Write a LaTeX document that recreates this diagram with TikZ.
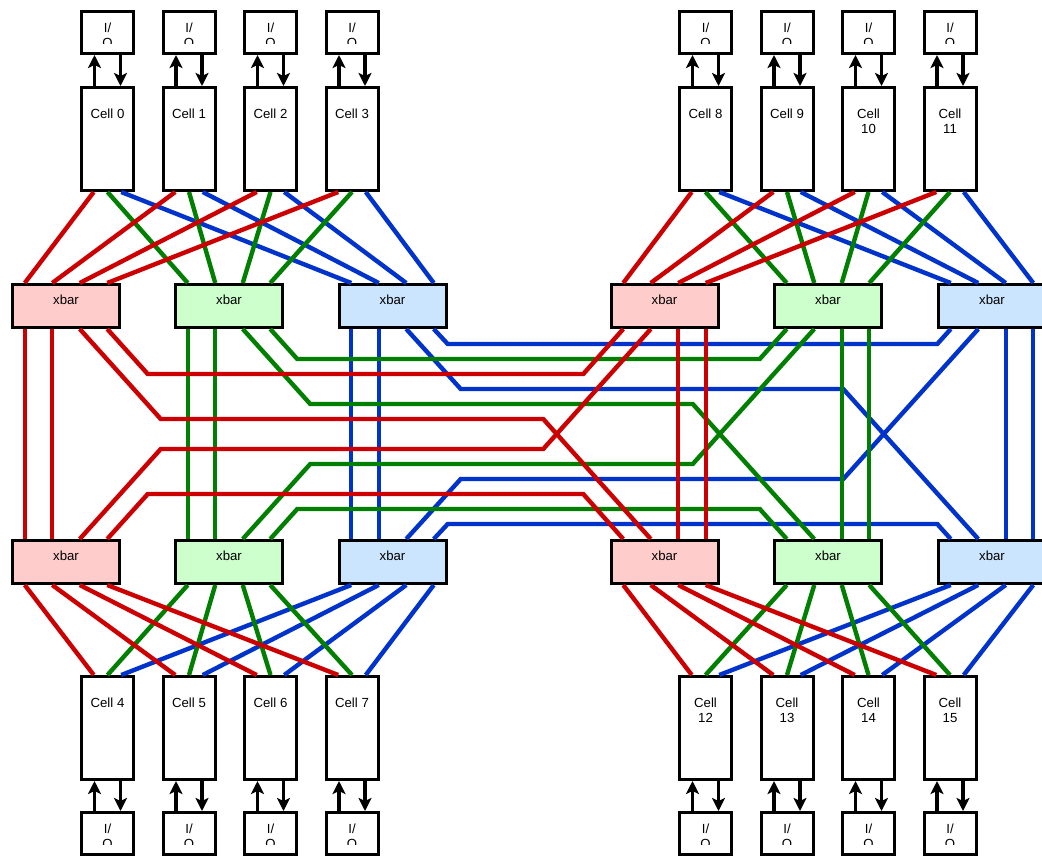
\documentclass[tikz,border=0pt]{standalone}
\usepackage{fontspec}
\setmainfont{Liberation Sans}
\usepackage{tikz}
\usetikzlibrary{arrows.meta,positioning}
\definecolor{linkred}{HTML}{CC0000}
\definecolor{linkgreen}{HTML}{007F00}
\definecolor{linkblue}{HTML}{0033CC}
\definecolor{fillred}{HTML}{FFCCCC}
\definecolor{fillgreen}{HTML}{CCFFCC}
\definecolor{fillblue}{HTML}{CCE5FF}
\tikzstyle{cellbox}=[draw, fill=white, line width=3pt, minimum width=52pt, minimum height=103pt, inner sep=0pt]
\tikzstyle{iobox}=[draw, fill=white, line width=3pt, minimum width=52pt, minimum height=42pt, inner sep=0pt]
\tikzstyle{xbar}=[draw, line width=3pt, minimum width=107pt, minimum height=43pt, inner sep=0pt, text height=9.6pt, text depth=13pt, font=\fontsize{13.2}{15}\selectfont]
\tikzstyle{celltext}=[anchor=north, yshift=-22.5pt, inner sep=0pt, align=center, font=\fontsize{13.2}{15}\selectfont]
\tikzstyle{iotext}=[inner sep=0pt, align=center, font=\fontsize{13.2}{15}\selectfont]
\tikzstyle{ioarrow}=[line width=3.6pt, -{Stealth[length=13pt, width=13pt, inset=3pt]}]
\tikzstyle{redlink}=[linkred, line width=4.4pt]
\tikzstyle{greenlink}=[linkgreen, line width=4.4pt]
\tikzstyle{bluelink}=[linkblue, line width=4.4pt]

\begin{document}
\begin{tikzpicture}[x=1pt, y=-1pt]
    \useasboundingbox (0,0) rectangle (1042,855);
    % cells
    \node[cellbox, label={[celltext]north:Cell 0}] (c0) at (107.5,139) {};
    \node[cellbox, label={[celltext]north:Cell 1}] (c1) at (189,139) {};
    \node[cellbox, label={[celltext]north:Cell 2}] (c2) at (270.5,139) {};
    \node[cellbox, label={[celltext]north:Cell 3}] (c3) at (352,139) {};
    \node[cellbox, label={[celltext]north:Cell 8}] (c8) at (705.5,139) {};
    \node[cellbox, label={[celltext]north:Cell 9}] (c9) at (787,139) {};
    \node[cellbox, label={[celltext]north:{Cell\\10}}] (c10) at (868.5,139) {};
    \node[cellbox, label={[celltext]north:{Cell\\11}}] (c11) at (950,139) {};
    \node[cellbox, label={[celltext]north:Cell 4}] (c4) at (107.5,728) {};
    \node[cellbox, label={[celltext]north:Cell 5}] (c5) at (189,728) {};
    \node[cellbox, label={[celltext]north:Cell 6}] (c6) at (270.5,728) {};
    \node[cellbox, label={[celltext]north:Cell 7}] (c7) at (352,728) {};
    \node[cellbox, label={[celltext]north:{Cell\\12}}] (c12) at (705.5,728) {};
    \node[cellbox, label={[celltext]north:{Cell\\13}}] (c13) at (787,728) {};
    \node[cellbox, label={[celltext]north:{Cell\\14}}] (c14) at (868.5,728) {};
    \node[cellbox, label={[celltext]north:{Cell\\15}}] (c15) at (950,728) {};

    % crossbars: 1 top left, 2 top right, 3 bottom left, 4 bottom right
    \node[xbar, fill=fillred]   (r1) at (66,306) {xbar};
    \node[xbar, fill=fillgreen] (g1) at (229,306) {xbar};
    \node[xbar, fill=fillblue]  (b1) at (392.5,306) {xbar};
    \node[xbar, fill=fillred]   (r2) at (664.5,306) {xbar};
    \node[xbar, fill=fillgreen] (g2) at (828,306) {xbar};
    \node[xbar, fill=fillblue]  (b2) at (992,306) {xbar};
    \node[xbar, fill=fillred]   (r3) at (66,562) {xbar};
    \node[xbar, fill=fillgreen] (g3) at (229,562) {xbar};
    \node[xbar, fill=fillblue]  (b3) at (392.5,562) {xbar};
    \node[xbar, fill=fillred]   (r4) at (664.5,562) {xbar};
    \node[xbar, fill=fillgreen] (g4) at (828,562) {xbar};
    \node[xbar, fill=fillblue]  (b4) at (992,562) {xbar};

    % I/O ports above and below the cells
    \foreach \n in {0,1,2,3,8,9,10,11} {
        \node[iobox, above=31pt of c\n] (io\n) {};
        \draw[ioarrow] ([xshift=-13pt]c\n.north) -- ([xshift=-13pt]io\n.south);
        \draw[ioarrow] ([xshift=13pt]io\n.south) -- ([xshift=13pt]c\n.north);
    }
    \foreach \n in {4,5,6,7,12,13,14,15} {
        \node[iobox, below=30pt of c\n] (io\n) {};
        \draw[ioarrow] ([xshift=-13pt]io\n.north) -- ([xshift=-13pt]c\n.south);
        \draw[ioarrow] ([xshift=13pt]c\n.south) -- ([xshift=13pt]io\n.north);
    }
    \foreach \n in {0,...,15} {
        \begin{scope}
            \clip (io\n.north west) rectangle ([yshift=-33.5pt]io\n.north east);
            \node[iotext, below=12.5pt of io\n.north] (iol\n) {I/\\O};
        \end{scope}
    }

    % cell <-> crossbar links, blue under green under red
    \foreach \k [evaluate=\k as \p using 27.5*\k-41.25,
                 evaluate=\k as \m using int(\k+4),
                 evaluate=\k as \n using int(\k+8),
                 evaluate=\k as \q using int(\k+12)] in {0,...,3} {
        \draw[bluelink] ([xshift=13.75pt]c\k.south) -- ([xshift=\p pt]b1.north);
        \draw[bluelink] ([xshift=13.75pt]c\n.south) -- ([xshift=\p pt]b2.north);
        \draw[bluelink] ([xshift=\p pt]b3.south) -- ([xshift=13.75pt]c\m.north);
        \draw[bluelink] ([xshift=\p pt]b4.south) -- ([xshift=13.75pt]c\q.north);
    }
    \foreach \k [evaluate=\k as \p using 27.5*\k-41.25,
                 evaluate=\k as \m using int(\k+4),
                 evaluate=\k as \n using int(\k+8),
                 evaluate=\k as \q using int(\k+12)] in {0,...,3} {
        \draw[greenlink] (c\k.south) -- ([xshift=\p pt]g1.north);
        \draw[greenlink] (c\n.south) -- ([xshift=\p pt]g2.north);
        \draw[greenlink] ([xshift=\p pt]g3.south) -- (c\m.north);
        \draw[greenlink] ([xshift=\p pt]g4.south) -- (c\q.north);
    }
    \foreach \k [evaluate=\k as \p using 27.5*\k-41.25,
                 evaluate=\k as \m using int(\k+4),
                 evaluate=\k as \n using int(\k+8),
                 evaluate=\k as \q using int(\k+12)] in {0,...,3} {
        \draw[redlink] ([xshift=-13.75pt]c\k.south) -- ([xshift=\p pt]r1.north);
        \draw[redlink] ([xshift=-13.75pt]c\n.south) -- ([xshift=\p pt]r2.north);
        \draw[redlink] ([xshift=\p pt]r3.south) -- ([xshift=-13.75pt]c\m.north);
        \draw[redlink] ([xshift=\p pt]r4.south) -- ([xshift=-13.75pt]c\q.north);
    }

    % crossbar <-> crossbar links
    \foreach \p in {-41.25,-13.75} {
        \draw[bluelink] ([xshift=\p pt]b1.south) -- ([xshift=\p pt]b3.north);
        \draw[bluelink] ([xshift=-\p pt]b2.south) -- ([xshift=-\p pt]b4.north);
    }
    \draw[bluelink] ([xshift=41.25pt]b1.south) -- (447.75,344) -- (937.25,344) -- ([xshift=-41.25pt]b2.south);
    \draw[bluelink] ([xshift=13.75pt]b1.south) -- (460.75,389) -- (843.25,389) -- ([xshift=-13.75pt]b4.north);
    \draw[bluelink] ([xshift=13.75pt]b3.north) -- (460.75,479) -- (843.25,479) -- ([xshift=-13.75pt]b2.south);
    \draw[bluelink] ([xshift=41.25pt]b3.north) -- (447.75,524) -- (937.25,524) -- ([xshift=-41.25pt]b4.north);

    \foreach \p in {-41.25,-13.75} {
        \draw[greenlink] ([xshift=\p pt]g1.south) -- ([xshift=\p pt]g3.north);
        \draw[greenlink] ([xshift=-\p pt]g2.south) -- ([xshift=-\p pt]g4.north);
    }
    \draw[greenlink] ([xshift=41.25pt]g1.south) -- (297.25,359) -- (759.75,359) -- ([xshift=-41.25pt]g2.south);
    \draw[greenlink] ([xshift=13.75pt]g1.south) -- (310.25,404) -- (692.75,404) -- ([xshift=-13.75pt]g4.north);
    \draw[greenlink] ([xshift=13.75pt]g3.north) -- (310.25,464) -- (692.75,464) -- ([xshift=-13.75pt]g2.south);
    \draw[greenlink] ([xshift=41.25pt]g3.north) -- (297.25,509) -- (759.75,509) -- ([xshift=-41.25pt]g4.north);

    \foreach \p in {-41.25,-13.75} {
        \draw[redlink] ([xshift=\p pt]r1.south) -- ([xshift=\p pt]r3.north);
        \draw[redlink] ([xshift=-\p pt]r2.south) -- ([xshift=-\p pt]r4.north);
    }
    \draw[redlink] ([xshift=41.25pt]r1.south) -- (147.75,374) -- (583.25,374) -- ([xshift=-41.25pt]r2.south);
    \draw[redlink] ([xshift=13.75pt]r1.south) -- (160.75,419) -- (543.25,419) -- ([xshift=-13.75pt]r4.north);
    \draw[redlink] ([xshift=13.75pt]r3.north) -- (160.75,449) -- (543.25,449) -- ([xshift=-13.75pt]r2.south);
    \draw[redlink] ([xshift=41.25pt]r3.north) -- (147.75,494) -- (583.25,494) -- ([xshift=-41.25pt]r4.north);
\end{tikzpicture}
\end{document}
